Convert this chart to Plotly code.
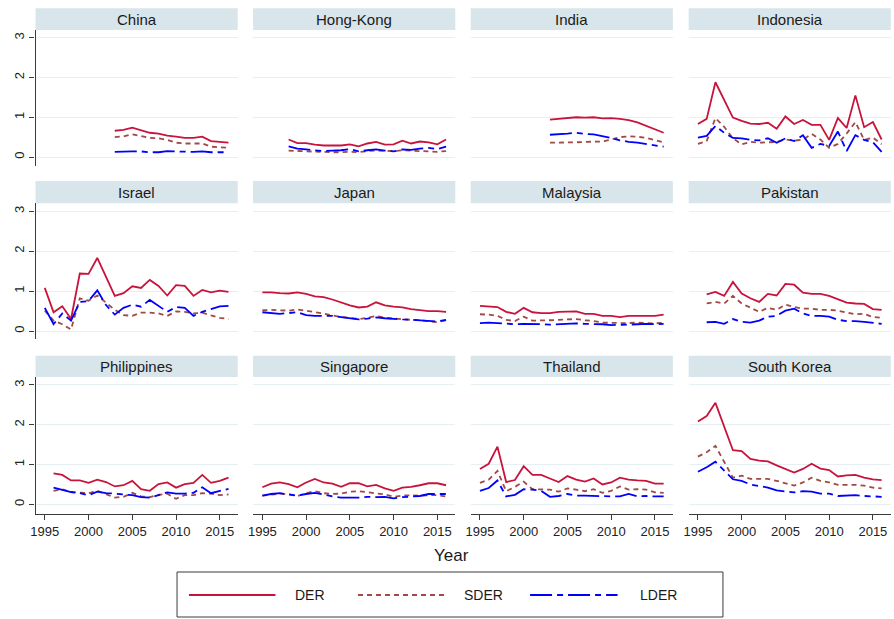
import plotly.graph_objects as go

# ---------------------------------------------------------------- data
countries = ["China", "Hong-Kong", "India", "Indonesia",
             "Israel", "Japan", "Malaysia", "Pakistan",
             "Philippines", "Singapore", "Thailand", "South Korea"]
first_year = [2003, 1998, 2003, 1995,
              1995, 1995, 1995, 1996,
              1996, 1995, 1995, 1995]
last_year = 2016

china_der = [0.66, 0.68, 0.74, 0.68, 0.61, 0.59, 0.54, 0.51, 0.48, 0.48, 0.51, 0.40, 0.38, 0.36]
china_sder = [0.50, 0.52, 0.57, 0.52, 0.48, 0.47, 0.43, 0.36, 0.34, 0.34, 0.34, 0.26, 0.24, 0.23]
china_lder = [0.13, 0.14, 0.14, 0.14, 0.12, 0.12, 0.15, 0.14, 0.13, 0.13, 0.14, 0.12, 0.12, 0.12]

hongkong_der = [0.44, 0.35, 0.35, 0.31, 0.29, 0.29, 0.29, 0.32, 0.27, 0.34, 0.38, 0.31, 0.32, 0.41, 0.34, 0.39, 0.37, 0.32, 0.44]
hongkong_sder = [0.16, 0.15, 0.15, 0.14, 0.13, 0.12, 0.12, 0.13, 0.12, 0.15, 0.16, 0.15, 0.15, 0.17, 0.16, 0.15, 0.15, 0.13, 0.15]
hongkong_lder = [0.27, 0.21, 0.19, 0.17, 0.15, 0.16, 0.17, 0.20, 0.14, 0.17, 0.19, 0.16, 0.14, 0.19, 0.18, 0.21, 0.23, 0.20, 0.26]

india_der = [0.94, 0.96, 0.97, 1.00, 0.99, 1.00, 0.97, 0.98, 0.96, 0.93, 0.87, 0.78, 0.69, 0.61]
india_sder = [0.36, 0.36, 0.37, 0.37, 0.38, 0.38, 0.39, 0.44, 0.50, 0.52, 0.51, 0.48, 0.43, 0.37]
india_lder = [0.56, 0.57, 0.59, 0.61, 0.58, 0.57, 0.53, 0.48, 0.42, 0.38, 0.36, 0.33, 0.29, 0.26]

indonesia_der = [0.83, 0.96, 1.88, 1.42, 0.99, 0.91, 0.84, 0.83, 0.86, 0.71, 1.02, 0.83, 0.93, 0.81, 0.81, 0.43, 0.98, 0.73, 1.55, 0.75, 0.88, 0.44]
indonesia_sder = [0.33, 0.40, 0.98, 0.76, 0.47, 0.32, 0.38, 0.36, 0.37, 0.38, 0.44, 0.41, 0.44, 0.58, 0.44, 0.23, 0.33, 0.59, 0.88, 0.43, 0.49, 0.32]
indonesia_lder = [0.49, 0.53, 0.78, 0.61, 0.48, 0.47, 0.43, 0.42, 0.47, 0.36, 0.47, 0.40, 0.55, 0.23, 0.33, 0.28, 0.64, 0.15, 0.55, 0.43, 0.37, 0.13]

israel_der = [1.08, 0.47, 0.62, 0.30, 1.44, 1.43, 1.83, 1.34, 0.88, 0.95, 1.12, 1.08, 1.28, 1.13, 0.89, 1.15, 1.13, 0.88, 1.03, 0.97, 1.01, 0.98]
israel_sder = [0.51, 0.26, 0.17, 0.04, 0.82, 0.76, 0.89, 0.72, 0.53, 0.40, 0.38, 0.46, 0.46, 0.44, 0.38, 0.49, 0.48, 0.44, 0.46, 0.39, 0.33, 0.30]
israel_lder = [0.58, 0.17, 0.44, 0.26, 0.73, 0.75, 1.02, 0.65, 0.41, 0.58, 0.66, 0.61, 0.78, 0.62, 0.48, 0.60, 0.58, 0.38, 0.48, 0.55, 0.62, 0.63]

japan_der = [0.97, 0.97, 0.95, 0.94, 0.97, 0.93, 0.87, 0.85, 0.79, 0.71, 0.64, 0.59, 0.61, 0.72, 0.64, 0.61, 0.59, 0.55, 0.53, 0.50, 0.50, 0.48]
japan_sder = [0.52, 0.53, 0.52, 0.51, 0.54, 0.51, 0.48, 0.44, 0.39, 0.35, 0.33, 0.30, 0.33, 0.38, 0.33, 0.31, 0.30, 0.28, 0.27, 0.25, 0.22, 0.27]
japan_lder = [0.47, 0.45, 0.43, 0.45, 0.47, 0.40, 0.38, 0.38, 0.38, 0.35, 0.32, 0.29, 0.31, 0.34, 0.32, 0.30, 0.29, 0.28, 0.27, 0.25, 0.24, 0.28]

malaysia_der = [0.63, 0.61, 0.60, 0.48, 0.43, 0.58, 0.47, 0.45, 0.45, 0.48, 0.49, 0.49, 0.43, 0.43, 0.38, 0.38, 0.35, 0.38, 0.38, 0.38, 0.38, 0.41]
malaysia_sder = [0.42, 0.41, 0.38, 0.28, 0.25, 0.36, 0.26, 0.26, 0.27, 0.28, 0.29, 0.30, 0.27, 0.25, 0.21, 0.20, 0.20, 0.20, 0.21, 0.20, 0.19, 0.21]
malaysia_lder = [0.20, 0.21, 0.20, 0.19, 0.17, 0.18, 0.18, 0.17, 0.16, 0.17, 0.18, 0.19, 0.18, 0.18, 0.17, 0.15, 0.15, 0.16, 0.17, 0.18, 0.17, 0.18]

pakistan_der = [0.92, 0.98, 0.88, 1.23, 0.94, 0.82, 0.73, 0.93, 0.89, 1.18, 1.16, 0.96, 0.93, 0.93, 0.88, 0.79, 0.71, 0.69, 0.68, 0.55, 0.53]
pakistan_sder = [0.69, 0.73, 0.69, 0.88, 0.69, 0.59, 0.48, 0.58, 0.53, 0.66, 0.60, 0.56, 0.56, 0.53, 0.53, 0.51, 0.46, 0.42, 0.43, 0.35, 0.33]
pakistan_lder = [0.22, 0.23, 0.18, 0.30, 0.23, 0.21, 0.26, 0.36, 0.38, 0.51, 0.56, 0.44, 0.38, 0.38, 0.36, 0.28, 0.25, 0.25, 0.23, 0.20, 0.18]

philippines_der = [0.78, 0.74, 0.60, 0.60, 0.54, 0.62, 0.56, 0.45, 0.48, 0.59, 0.38, 0.34, 0.51, 0.55, 0.42, 0.51, 0.54, 0.74, 0.54, 0.59, 0.67]
philippines_sder = [0.34, 0.38, 0.31, 0.30, 0.28, 0.34, 0.25, 0.17, 0.19, 0.29, 0.20, 0.18, 0.24, 0.27, 0.14, 0.23, 0.23, 0.28, 0.27, 0.23, 0.25]
philippines_lder = [0.42, 0.36, 0.31, 0.28, 0.23, 0.32, 0.28, 0.27, 0.25, 0.23, 0.18, 0.17, 0.23, 0.30, 0.27, 0.27, 0.29, 0.43, 0.28, 0.34, 0.39]

singapore_der = [0.43, 0.52, 0.55, 0.51, 0.43, 0.55, 0.64, 0.55, 0.52, 0.44, 0.53, 0.53, 0.45, 0.49, 0.40, 0.34, 0.42, 0.44, 0.48, 0.53, 0.53, 0.48]
singapore_sder = [0.22, 0.25, 0.27, 0.25, 0.21, 0.28, 0.33, 0.28, 0.26, 0.27, 0.32, 0.33, 0.30, 0.28, 0.25, 0.19, 0.22, 0.23, 0.22, 0.23, 0.23, 0.20]
singapore_lder = [0.22, 0.26, 0.28, 0.25, 0.22, 0.26, 0.29, 0.25, 0.20, 0.17, 0.17, 0.17, 0.19, 0.18, 0.19, 0.15, 0.18, 0.19, 0.21, 0.26, 0.26, 0.26]

thailand_der = [0.89, 1.02, 1.45, 0.56, 0.61, 0.96, 0.74, 0.74, 0.65, 0.56, 0.71, 0.62, 0.57, 0.65, 0.50, 0.55, 0.67, 0.62, 0.60, 0.59, 0.52, 0.52]
thailand_sder = [0.54, 0.62, 0.84, 0.33, 0.44, 0.57, 0.38, 0.37, 0.37, 0.32, 0.40, 0.37, 0.33, 0.38, 0.29, 0.34, 0.45, 0.37, 0.38, 0.37, 0.30, 0.29]
thailand_lder = [0.34, 0.41, 0.60, 0.20, 0.24, 0.38, 0.37, 0.34, 0.19, 0.21, 0.26, 0.22, 0.22, 0.21, 0.20, 0.20, 0.20, 0.26, 0.20, 0.21, 0.20, 0.20]

korea_der = [2.08, 2.22, 2.55, 1.96, 1.36, 1.34, 1.14, 1.10, 1.08, 0.98, 0.89, 0.80, 0.89, 1.02, 0.90, 0.86, 0.70, 0.73, 0.74, 0.67, 0.63, 0.61]
korea_sder = [1.20, 1.31, 1.47, 1.05, 0.67, 0.72, 0.64, 0.64, 0.64, 0.59, 0.53, 0.47, 0.55, 0.67, 0.59, 0.55, 0.49, 0.49, 0.49, 0.47, 0.42, 0.40]
korea_lder = [0.82, 0.93, 1.07, 0.84, 0.63, 0.59, 0.50, 0.46, 0.42, 0.35, 0.32, 0.30, 0.33, 0.32, 0.27, 0.27, 0.21, 0.22, 0.23, 0.21, 0.20, 0.19]

der_series = [china_der, hongkong_der, india_der, indonesia_der,
              israel_der, japan_der, malaysia_der, pakistan_der,
              philippines_der, singapore_der, thailand_der, korea_der]
sder_series = [china_sder, hongkong_sder, india_sder, indonesia_sder,
               israel_sder, japan_sder, malaysia_sder, pakistan_sder,
               philippines_sder, singapore_sder, thailand_sder, korea_sder]
lder_series = [china_lder, hongkong_lder, india_lder, indonesia_lder,
               israel_lder, japan_lder, malaysia_lder, pakistan_lder,
               philippines_lder, singapore_lder, thailand_lder, korea_lder]

series_names = ["DER", "SDER", "LDER"]
x_ticks = [1995, 2000, 2005, 2010, 2015]
y_ticks = [0, 1, 2, 3]

# ---------------------------------------------------------------- styling
W, H = 894, 619
FONT = "Liberation Sans, Arial, Helvetica, sans-serif"
COLORS = ["#c8143c", "#a04a46", "#0000ff"]
DASHES = ["solid", "5px,4px", "22px,5px,6px,5px"]
LINE_W = 1.8
GRID = "#e6eff1"
STRIP = "#d8e5ea"
AXIS = "#3a3a3a"


def fx(px):
    return px / W


def fy(py):
    return 1 - py / H


col_px = [(30.7, 234.0), (249.5, 452.8), (468.3, 671.6), (687.5, 890.8)]
row_px = [(30.0, 166.0), (203.3, 339.0), (377.0, 514.3)]
strip_px = [(8.3, 30.0), (181.0, 203.3), (355.7, 377.0)]
y_ranges = [[-0.226, 3.194], [-0.20, 3.20], [-0.25, 3.20]]
x_range = [1993.94, 2017.05]

fig = go.Figure()
layout = dict(
    width=W, height=H, autosize=False,
    margin=dict(l=0, r=0, t=0, b=0),
    paper_bgcolor="white", plot_bgcolor="white",
    showlegend=False,
    font=dict(family=FONT, color="#222222"),
)
shapes = []
annotations = []

for i, name in enumerate(countries):
    r, c = divmod(i, 4)
    n = i + 1
    sfx = "" if n == 1 else str(n)
    years = list(range(first_year[i], last_year + 1))
    for k, vals in enumerate([der_series[i], sder_series[i], lder_series[i]]):
        fig.add_trace(go.Scatter(
            x=years, y=vals, mode="lines", name=series_names[k],
            xaxis="x" + sfx, yaxis="y" + sfx,
            line=dict(color=COLORS[k], width=LINE_W, dash=DASHES[k]),
            hoverinfo="skip",
        ))

    x0, x1 = col_px[c]
    top, bot = row_px[r]
    bottom_row = r == 2
    first_col = c == 0

    layout["xaxis" + sfx] = dict(
        domain=[fx(x0), fx(x1)], range=x_range, anchor="y" + sfx,
        tickvals=x_ticks, showgrid=False, zeroline=False,
        showticklabels=bottom_row, showline=bottom_row,
        linecolor=AXIS, linewidth=1.2,
        ticks="outside" if bottom_row else "", ticklen=5, tickwidth=1.2,
        tickcolor=AXIS, tickfont=dict(size=13, family=FONT, color="#222222"),
        fixedrange=True,
    )
    layout["yaxis" + sfx] = dict(
        domain=[fy(bot), fy(top)], range=y_ranges[r], anchor="x" + sfx,
        tickvals=y_ticks, showgrid=True, gridcolor=GRID, gridwidth=1,
        zeroline=False, showticklabels=first_col, showline=first_col,
        linecolor=AXIS, linewidth=1.2,
        ticks="outside" if first_col else "", ticklen=5, tickwidth=1.2,
        tickcolor=AXIS, tickangle=-90,
        tickfont=dict(size=13, family=FONT, color="#222222"),
        fixedrange=True,
    )

    # panel title strip
    s0, s1 = strip_px[r]
    shapes.append(dict(type="rect", xref="paper", yref="paper",
                       x0=fx(x0), x1=fx(x1), y0=fy(s1), y1=fy(s0),
                       fillcolor=STRIP, line=dict(width=0), layer="below"))
    annotations.append(dict(text=name, xref="paper", yref="paper",
                            x=fx((x0 + x1) / 2), y=fy((s0 + s1) / 2),
                            xanchor="center", yanchor="middle", showarrow=False,
                            font=dict(size=15, family=FONT, color="#1a1a1a")))

# common x-axis title
annotations.append(dict(text="Year", xref="paper", yref="paper",
                        x=fx(449), y=fy(555), xanchor="center", yanchor="middle",
                        showarrow=False, font=dict(size=17, family=FONT, color="#1a1a1a")))

# legend box with long line samples
shapes.append(dict(type="rect", xref="paper", yref="paper",
                   x0=fx(173), x1=fx(722), y0=fy(617), y1=fy(572),
                   fillcolor="white", line=dict(color=AXIS, width=1)))
legend_x = [(185, 272, 290), (355, 443, 460), (528, 616, 637)]
for k, (lx0, lx1, tx) in enumerate(legend_x):
    shapes.append(dict(type="line", xref="paper", yref="paper",
                       x0=fx(lx0), x1=fx(lx1), y0=fy(595), y1=fy(595),
                       line=dict(color=COLORS[k], width=LINE_W + 0.4, dash=DASHES[k])))
    annotations.append(dict(text=series_names[k], xref="paper", yref="paper",
                            x=fx(tx), y=fy(595), xanchor="left", yanchor="middle",
                            showarrow=False, font=dict(size=14, family=FONT, color="#1a1a1a")))

layout["shapes"] = shapes
layout["annotations"] = annotations
fig.update_layout(**layout)

fig.write_html("out.html")
